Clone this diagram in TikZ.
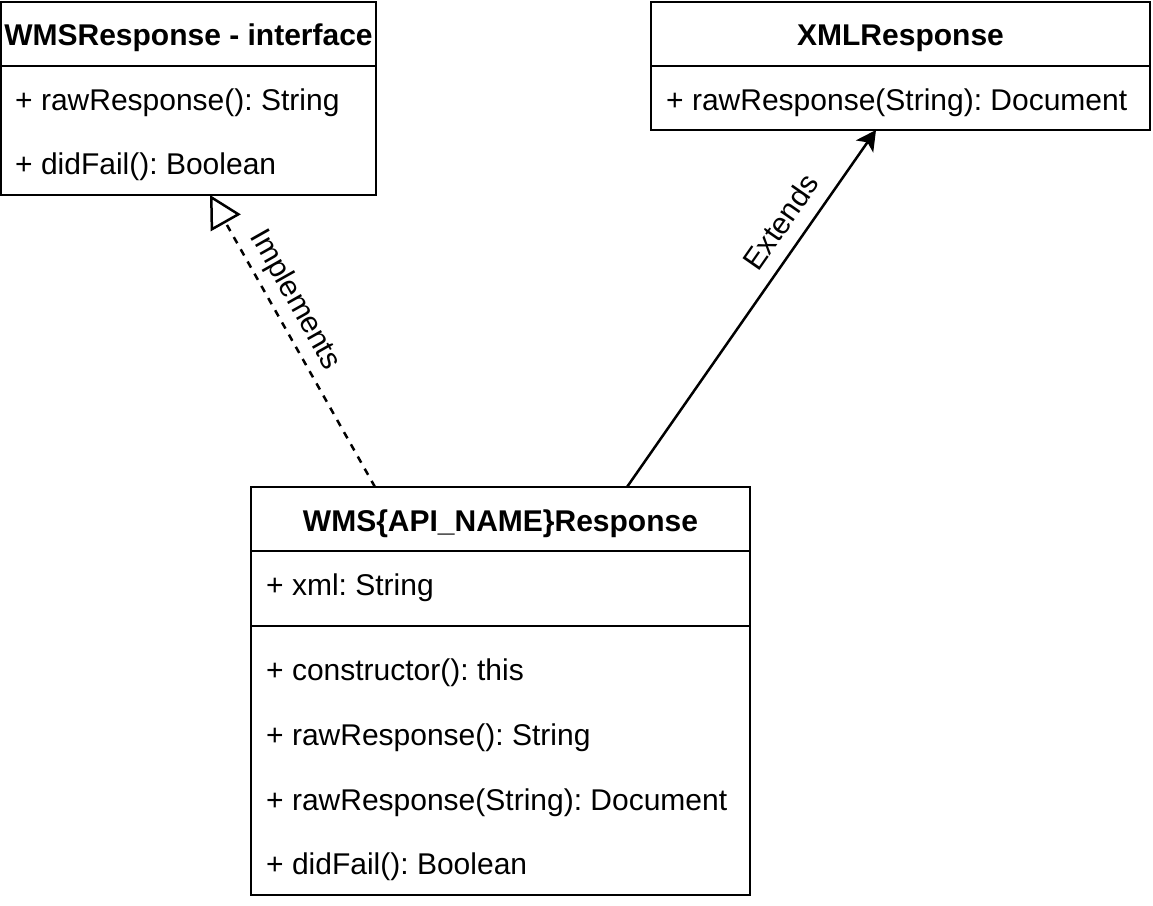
\documentclass[tikz,border=0pt]{standalone}
\usepackage{fontspec}
\setmainfont{Liberation Sans}
\usetikzlibrary{arrows.meta}
\frenchspacing
\begin{document}
\begin{tikzpicture}[x=1pt,y=-1pt,
  box/.style={draw, line width=2.5pt, anchor=north west, inner sep=0pt, outer sep=0pt},
  member/.style={anchor=base west, inner sep=0pt, font=\fontsize{30}{36}\selectfont\frenchspacing},
  title/.style={anchor=base, inner sep=0pt, font=\fontsize{30}{36}\selectfont\bfseries},
  lbl/.style={inner sep=0pt, font=\fontsize{30}{36}\selectfont},
  divider/.style={line width=2.5pt},
  conn/.style={line width=2.5pt}]
\useasboundingbox (0,0) rectangle (1153,905);
% boxes
\node[box, minimum width=375pt, minimum height=193pt] (iface) at (1,2) {};
\node[box, minimum width=499pt, minimum height=128pt] (xml) at (651,2) {};
\node[box, minimum width=499pt, minimum height=408pt] (impl) at (251,487) {};
% dividers
\draw[divider] ([yshift=-64pt]iface.north west) -- ([yshift=-64pt]iface.north east);
\draw[divider] ([yshift=-64pt]xml.north west) -- ([yshift=-64pt]xml.north east);
\draw[divider] ([yshift=-64pt]impl.north west) -- ([yshift=-64pt]impl.north east);
\draw[divider] ([yshift=-139pt]impl.north west) -- ([yshift=-139pt]impl.north east);
% titles
\node[title] (t1) at (188.5,45) {WMSResponse - interface};
\node[title] (t2) at (900.5,45) {XMLResponse};
\node[title] (t3) at (500.5,531) {WMS\{API\_NAME\}Response};
% members
\node[member] (m11) at (15,110) {+ rawResponse(): String};
\node[member] (m12) at (15,174) {+ didFail(): Boolean};
\node[member] (m21) at (666,110) {+ rawResponse(String): Document};
\node[member] (m31) at (266,595) {+ xml: String};
\node[member] (m32) at (266,680) {+ constructor(): this};
\node[member] (m33) at (266,745) {+ rawResponse(): String};
\node[member] (m34) at (266,810) {+ rawResponse(String): Document};
\node[member] (m35) at (266,874) {+ didFail(): Boolean};
% connectors
\draw[conn, dash pattern=on 7pt off 7pt, -{Triangle[length=32pt,width=34pt,fill=white]}]
  ([xshift=124pt]impl.north west) -- ([xshift=209pt]iface.south west)
  node[lbl, pos=0.603, sloped, above=7pt] {Implements};
\draw[conn, -{Stealth[length=20pt,width=21pt,inset=5pt]}]
  ([xshift=376pt]impl.north west) -- ([xshift=225pt]xml.south west)
  node[lbl, pos=0.701, sloped, above=13.5pt] {Extends};
\end{tikzpicture}
\end{document}
